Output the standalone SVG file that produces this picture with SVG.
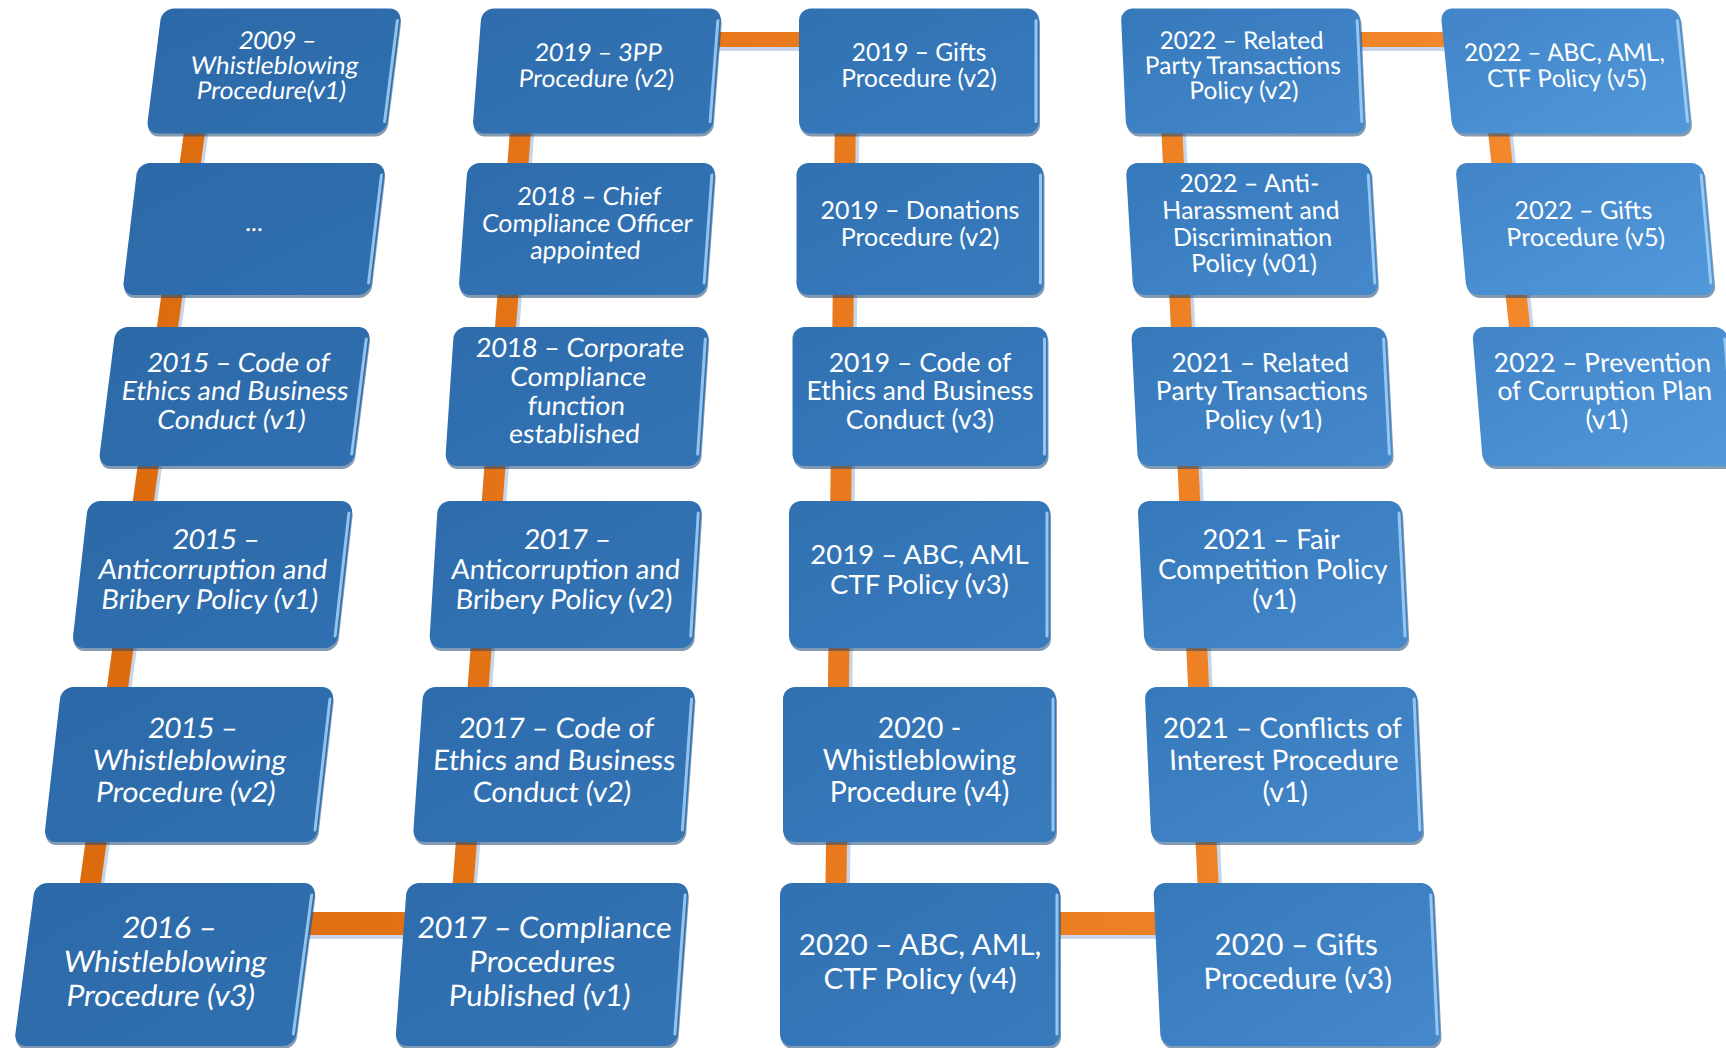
<svg xmlns="http://www.w3.org/2000/svg" width="1726" height="1048" viewBox="0 0 1726 1048">
<defs>
<linearGradient id="og" gradientUnits="userSpaceOnUse" x1="0" y1="0" x2="1726" y2="0"><stop offset="0" stop-color="#DB690B"/><stop offset="1" stop-color="#F78C30"/></linearGradient>
<linearGradient id="g1" x1="0" y1="0" x2="1" y2="1"><stop offset="0" stop-color="#2C69A8"/><stop offset="1" stop-color="#3070B0"/></linearGradient>
<linearGradient id="g2" x1="0" y1="0" x2="1" y2="1"><stop offset="0" stop-color="#2E6CAC"/><stop offset="1" stop-color="#3374B5"/></linearGradient>
<linearGradient id="g3" x1="0" y1="0" x2="1" y2="1"><stop offset="0" stop-color="#3171B2"/><stop offset="1" stop-color="#387BBD"/></linearGradient>
<linearGradient id="g4" x1="0" y1="0" x2="1" y2="1"><stop offset="0" stop-color="#3679BB"/><stop offset="1" stop-color="#4588CB"/></linearGradient>
<linearGradient id="g5" x1="0" y1="0" x2="1" y2="1"><stop offset="0" stop-color="#4184C7"/><stop offset="1" stop-color="#5199DB"/></linearGradient>
</defs>
<style>
.sh{fill:#1d4775;opacity:.55}
.hl{fill:none;stroke:#a6d2f7;stroke-width:3;stroke-linecap:round;opacity:.85}
text{font-family:Lato,"Noto Sans","Liberation Sans",sans-serif;fill:#ffffff;text-anchor:middle}
.r1{font-size:24.5px}.r2{font-size:25px}.r3{font-size:26.5px}.r4{font-size:27.5px}.r5{font-size:28.3px}.r6{font-size:29.7px}
.con{stroke:url(#og);fill:none}
.cs{stroke:#c8d5e6;fill:none;stroke-width:4}
</style>
<rect width="1726" height="1048" fill="#ffffff"/>
<g id="connectors">
<line class="cs" x1="215" y1="71" x2="91" y2="965"/>
<line class="cs" x1="537" y1="71" x2="469" y2="965"/>
<line class="cs" x1="858" y1="71" x2="847" y2="965"/>
<line class="cs" x1="1181" y1="71" x2="1224" y2="965"/>
<line class="cs" x1="1504" y1="71" x2="1539" y2="396"/>
<line class="cs" x1="700" y1="49" x2="820" y2="49"/>
<line class="cs" x1="1350" y1="49" x2="1460" y2="49"/>
<line class="cs" x1="280" y1="937" x2="420" y2="937"/>
<line class="cs" x1="1040" y1="937" x2="1180" y2="937"/>
<line class="con" stroke-width="21" x1="203" y1="71" x2="79" y2="965"/>
<line class="con" stroke-width="21" x1="525" y1="71" x2="457" y2="965"/>
<line class="con" stroke-width="21" x1="846" y1="71" x2="835" y2="965"/>
<line class="con" stroke-width="21" x1="1169" y1="71" x2="1212" y2="965"/>
<line class="con" stroke-width="21" x1="1492" y1="71" x2="1527" y2="396"/>
<line class="con" stroke-width="15" x1="700" y1="39.5" x2="820" y2="39.5"/>
<line class="con" stroke-width="15" x1="1350" y1="39.5" x2="1460" y2="39.5"/>
<line class="con" stroke-width="23" x1="280" y1="923.5" x2="420" y2="923.5"/>
<line class="con" stroke-width="23" x1="1040" y1="923.5" x2="1180" y2="923.5"/>
</g>

<g id="n-b1" transform="translate(274,71) skewX(-7.2)">
<rect class="sh" x="-119" y="-59.5" width="240" height="125" rx="12"/>
<rect fill="url(#g1)" x="-120" y="-62.5" width="240" height="125" rx="12"/>
<path class="hl" d="M117 -50.5V50.5"/>
<text class="r1"><tspan x="0" y="-22.4">2009 –</tspan><tspan x="0" y="2.9">Whistleblowing</tspan><tspan x="0" y="28.2">Procedure(v1)</tspan></text>
</g>
<g id="n-b2" transform="translate(254,229) skewX(-6.8)">
<rect class="sh" x="-123" y="-63" width="248" height="132" rx="12"/>
<rect fill="url(#g1)" x="-124" y="-66" width="248" height="132" rx="12"/>
<path class="hl" d="M121 -54V54"/>
<text class="r2"><tspan x="0" y="2">...</tspan></text>
</g>
<g id="n-b3" transform="translate(234.5,396.5) skewX(-7.2)">
<rect class="sh" x="-126.5" y="-66.5" width="255" height="139" rx="12"/>
<rect fill="url(#g1)" x="-127.5" y="-69.5" width="255" height="139" rx="12"/>
<path class="hl" d="M124.5 -57.5V57.5"/>
<text class="r3"><tspan x="0" y="-24.8">2015 – Code of</tspan><tspan x="0" y="3.8">Ethics and Business</tspan><tspan x="0" y="32.4">Conduct (v1)</tspan></text>
</g>
<g id="n-b4" transform="translate(212.5,574.5) skewX(-6.4)">
<rect class="sh" x="-131.5" y="-70.5" width="265" height="147" rx="12"/>
<rect fill="url(#g1)" x="-132.5" y="-73.5" width="265" height="147" rx="12"/>
<path class="hl" d="M129.5 -61.5V61.5"/>
<text class="r4"><tspan x="0" y="-25.1">2015 –</tspan><tspan x="0" y="4.9">Anticorruption and</tspan><tspan x="0" y="34.9">Bribery Policy (v1)</tspan></text>
</g>
<g id="n-b5" transform="translate(189,764.5) skewX(-6.5)">
<rect class="sh" x="-135.5" y="-74.5" width="273" height="155" rx="12"/>
<rect fill="url(#g1)" x="-136.5" y="-77.5" width="273" height="155" rx="12"/>
<path class="hl" d="M133.5 -65.5V65.5"/>
<text class="r5"><tspan x="0" y="-26.8">2015 –</tspan><tspan x="0" y="5.2">Whistleblowing</tspan><tspan x="0" y="37.2">Procedure (v2)</tspan></text>
</g>
<g id="n-b6" transform="translate(165,964.5) skewX(-7.5)">
<rect class="sh" x="-139.5" y="-78.5" width="281" height="163" rx="12"/>
<rect fill="url(#g1)" x="-140.5" y="-81.5" width="281" height="163" rx="12"/>
<path class="hl" d="M137.5 -69.5V69.5"/>
<text class="r6"><tspan x="0" y="-26.3">2016 –</tspan><tspan x="0" y="7.7">Whistleblowing</tspan><tspan x="0" y="41.7">Procedure (v3)</tspan></text>
</g>

<g id="n-c1" transform="translate(597,71) skewX(-4.4)">
<rect class="sh" x="-119" y="-59.5" width="240" height="125" rx="12"/>
<rect fill="url(#g2)" x="-120" y="-62.5" width="240" height="125" rx="12"/>
<path class="hl" d="M117 -50.5V50.5"/>
<text class="r1"><tspan x="0" y="-10.4">2019 – 3PP</tspan><tspan x="0" y="16.1">Procedure (v2)</tspan></text>
</g>
<g id="n-c2" transform="translate(587,229) skewX(-4.1)">
<rect class="sh" x="-123" y="-63" width="248" height="132" rx="12"/>
<rect fill="url(#g2)" x="-124" y="-66" width="248" height="132" rx="12"/>
<path class="hl" d="M121 -54V54"/>
<text class="r2"><tspan x="0" y="-24">2018 – Chief</tspan><tspan x="0" y="3">Compliance Officer</tspan><tspan x="0" y="30">appointed</tspan></text>
</g>
<g id="n-c3" transform="translate(577,396.5) skewX(-3.8)">
<rect class="sh" x="-126.5" y="-66.5" width="255" height="139" rx="12"/>
<rect fill="url(#g2)" x="-127.5" y="-69.5" width="255" height="139" rx="12"/>
<path class="hl" d="M124.5 -57.5V57.5"/>
<text class="r3"><tspan x="0" y="-39.1">2018 – Corporate</tspan><tspan x="0" y="-10.5">Compliance</tspan><tspan x="0" y="18.1">function</tspan><tspan x="0" y="46.7">established</tspan></text>
</g>
<g id="n-c4" transform="translate(565.5,574.5) skewX(-3.5)">
<rect class="sh" x="-131" y="-70.5" width="264" height="147" rx="12"/>
<rect fill="url(#g2)" x="-132" y="-73.5" width="264" height="147" rx="12"/>
<path class="hl" d="M129 -61.5V61.5"/>
<text class="r4"><tspan x="0" y="-25.1">2017 –</tspan><tspan x="0" y="4.9">Anticorruption and</tspan><tspan x="0" y="34.9">Bribery Policy (v2)</tspan></text>
</g>
<g id="n-c5" transform="translate(554,764.5) skewX(-4)">
<rect class="sh" x="-135" y="-74.5" width="272" height="155" rx="12"/>
<rect fill="url(#g2)" x="-136" y="-77.5" width="272" height="155" rx="12"/>
<path class="hl" d="M133 -65.5V65.5"/>
<text class="r5"><tspan x="0" y="-26.8">2017 – Code of</tspan><tspan x="0" y="5.2">Ethics and Business</tspan><tspan x="0" y="37.2">Conduct (v2)</tspan></text>
</g>
<g id="n-c6" transform="translate(542,964.5) skewX(-4.2)">
<rect class="sh" x="-140" y="-78.5" width="282" height="163" rx="12"/>
<rect fill="url(#g2)" x="-141" y="-81.5" width="282" height="163" rx="12"/>
<path class="hl" d="M138 -69.5V69.5"/>
<text class="r6"><tspan x="0" y="-26.3">2017 – Compliance</tspan><tspan x="0" y="7.7">Procedures</tspan><tspan x="0" y="41.7">Published (v1)</tspan></text>
</g>

<g id="n-d1" transform="translate(919,71)">
<rect class="sh" x="-119" y="-59.5" width="240" height="125" rx="12"/>
<rect fill="url(#g3)" x="-120" y="-62.5" width="240" height="125" rx="12"/>
<path class="hl" d="M117 -50.5V50.5"/>
<text class="r1"><tspan x="0" y="-10.4">2019 – Gifts</tspan><tspan x="0" y="16.1">Procedure (v2)</tspan></text>
</g>
<g id="n-d2" transform="translate(920,229)">
<rect class="sh" x="-122.5" y="-63" width="247" height="132" rx="12"/>
<rect fill="url(#g3)" x="-123.5" y="-66" width="247" height="132" rx="12"/>
<path class="hl" d="M120.5 -54V54"/>
<text class="r2"><tspan x="0" y="-10.5">2019 – Donations</tspan><tspan x="0" y="16.5">Procedure (v2)</tspan></text>
</g>
<g id="n-d3" transform="translate(920,396.5)">
<rect class="sh" x="-126.5" y="-66.5" width="255" height="139" rx="12"/>
<rect fill="url(#g3)" x="-127.5" y="-69.5" width="255" height="139" rx="12"/>
<path class="hl" d="M124.5 -57.5V57.5"/>
<text class="r3"><tspan x="0" y="-24.8">2019 – Code of</tspan><tspan x="0" y="3.8">Ethics and Business</tspan><tspan x="0" y="32.4">Conduct (v3)</tspan></text>
</g>
<g id="n-d4" transform="translate(919.5,574.5)">
<rect class="sh" x="-129.5" y="-70.5" width="261" height="147" rx="12"/>
<rect fill="url(#g3)" x="-130.5" y="-73.5" width="261" height="147" rx="12"/>
<path class="hl" d="M127.5 -61.5V61.5"/>
<text class="r4"><tspan x="0" y="-10.1">2019 – ABC, AML</tspan><tspan x="0" y="19.9">CTF Policy (v3)</tspan></text>
</g>
<g id="n-d5" transform="translate(919.5,764.5)">
<rect class="sh" x="-135.5" y="-74.5" width="273" height="155" rx="12"/>
<rect fill="url(#g3)" x="-136.5" y="-77.5" width="273" height="155" rx="12"/>
<path class="hl" d="M133.5 -65.5V65.5"/>
<text class="r5"><tspan x="0" y="-26.8">2020 -</tspan><tspan x="0" y="5.2">Whistleblowing</tspan><tspan x="0" y="37.2">Procedure (v4)</tspan></text>
</g>
<g id="n-d6" transform="translate(920,964.5)">
<rect class="sh" x="-139" y="-78.5" width="280" height="163" rx="12"/>
<rect fill="url(#g3)" x="-140" y="-81.5" width="280" height="163" rx="12"/>
<path class="hl" d="M137 -69.5V69.5"/>
<text class="r6"><tspan x="0" y="-9.3">2020 – ABC, AML,</tspan><tspan x="0" y="24.7">CTF Policy (v4)</tspan></text>
</g>

<g id="n-e1" transform="translate(1243,71) skewX(2.6)">
<rect class="sh" x="-118.5" y="-59.5" width="239" height="125" rx="12"/>
<rect fill="url(#g4)" x="-119.5" y="-62.5" width="239" height="125" rx="12"/>
<path class="hl" d="M116.5 -50.5V50.5"/>
<text class="r1"><tspan x="0" y="-22.4">2022 – Related</tspan><tspan x="0" y="2.9">Party Transactions</tspan><tspan x="0" y="28.2">Policy (v2)</tspan></text>
</g>
<g id="n-e2" transform="translate(1252,229) skewX(3.4)">
<rect class="sh" x="-121.5" y="-63" width="245" height="132" rx="12"/>
<rect fill="url(#g4)" x="-122.5" y="-66" width="245" height="132" rx="12"/>
<path class="hl" d="M119.5 -54V54"/>
<text class="r2"><tspan x="0" y="-37.5">2022 – Anti-</tspan><tspan x="0" y="-10.5">Harassment and</tspan><tspan x="0" y="16.5">Discrimination</tspan><tspan x="0" y="43.5">Policy (v01)</tspan></text>
</g>
<g id="n-e3" transform="translate(1262,396.5) skewX(2.9)">
<rect class="sh" x="-126.5" y="-66.5" width="255" height="139" rx="12"/>
<rect fill="url(#g4)" x="-127.5" y="-69.5" width="255" height="139" rx="12"/>
<path class="hl" d="M124.5 -57.5V57.5"/>
<text class="r3"><tspan x="0" y="-24.8">2021 – Related</tspan><tspan x="0" y="3.8">Party Transactions</tspan><tspan x="0" y="32.4">Policy (v1)</tspan></text>
</g>
<g id="n-e4" transform="translate(1273,574.5) skewX(2.8)">
<rect class="sh" x="-131" y="-70.5" width="264" height="147" rx="12"/>
<rect fill="url(#g4)" x="-132" y="-73.5" width="264" height="147" rx="12"/>
<path class="hl" d="M129 -61.5V61.5"/>
<text class="r4"><tspan x="0" y="-25.1">2021 – Fair</tspan><tspan x="0" y="4.9">Competition Policy</tspan><tspan x="0" y="34.9">(v1)</tspan></text>
</g>
<g id="n-e5" transform="translate(1284,764.5) skewX(2.5)">
<rect class="sh" x="-135" y="-74.5" width="272" height="155" rx="12"/>
<rect fill="url(#g4)" x="-136" y="-77.5" width="272" height="155" rx="12"/>
<path class="hl" d="M133 -65.5V65.5"/>
<text class="r5"><tspan x="0" y="-26.8">2021 – Conflicts of</tspan><tspan x="0" y="5.2">Interest Procedure</tspan><tspan x="0" y="37.2">(v1)</tspan></text>
</g>
<g id="n-e6" transform="translate(1297,964.5) skewX(2.7)">
<rect class="sh" x="-139" y="-78.5" width="280" height="163" rx="12"/>
<rect fill="url(#g4)" x="-140" y="-81.5" width="280" height="163" rx="12"/>
<path class="hl" d="M137 -69.5V69.5"/>
<text class="r6"><tspan x="0" y="-9.3">2020 – Gifts</tspan><tspan x="0" y="24.7">Procedure (v3)</tspan></text>
</g>

<g id="n-f1" transform="translate(1566,71) skewX(5.7)">
<rect class="sh" x="-118.5" y="-59.5" width="239" height="125" rx="12"/>
<rect fill="url(#g5)" x="-119.5" y="-62.5" width="239" height="125" rx="12"/>
<path class="hl" d="M116.5 -50.5V50.5"/>
<text class="r1"><tspan x="0" y="-10.4">2022 – ABC, AML,</tspan><tspan x="0" y="16.1">CTF Policy (v5)</tspan></text>
</g>
<g id="n-f2" transform="translate(1585,229) skewX(5.1)">
<rect class="sh" x="-123" y="-63" width="248" height="132" rx="12"/>
<rect fill="url(#g5)" x="-124" y="-66" width="248" height="132" rx="12"/>
<path class="hl" d="M121 -54V54"/>
<text class="r2"><tspan x="0" y="-10.5">2022 – Gifts</tspan><tspan x="0" y="16.5">Procedure (v5)</tspan></text>
</g>
<g id="n-f3" transform="translate(1605,396.5) skewX(4.6)">
<rect class="sh" x="-126.5" y="-66.5" width="255" height="139" rx="12"/>
<rect fill="url(#g5)" x="-127.5" y="-69.5" width="255" height="139" rx="12"/>
<path class="hl" d="M124.5 -57.5V57.5"/>
<text class="r3"><tspan x="0" y="-24.8">2022 – Prevention</tspan><tspan x="0" y="3.8">of Corruption Plan</tspan><tspan x="0" y="32.4">(v1)</tspan></text>
</g>
</svg>
